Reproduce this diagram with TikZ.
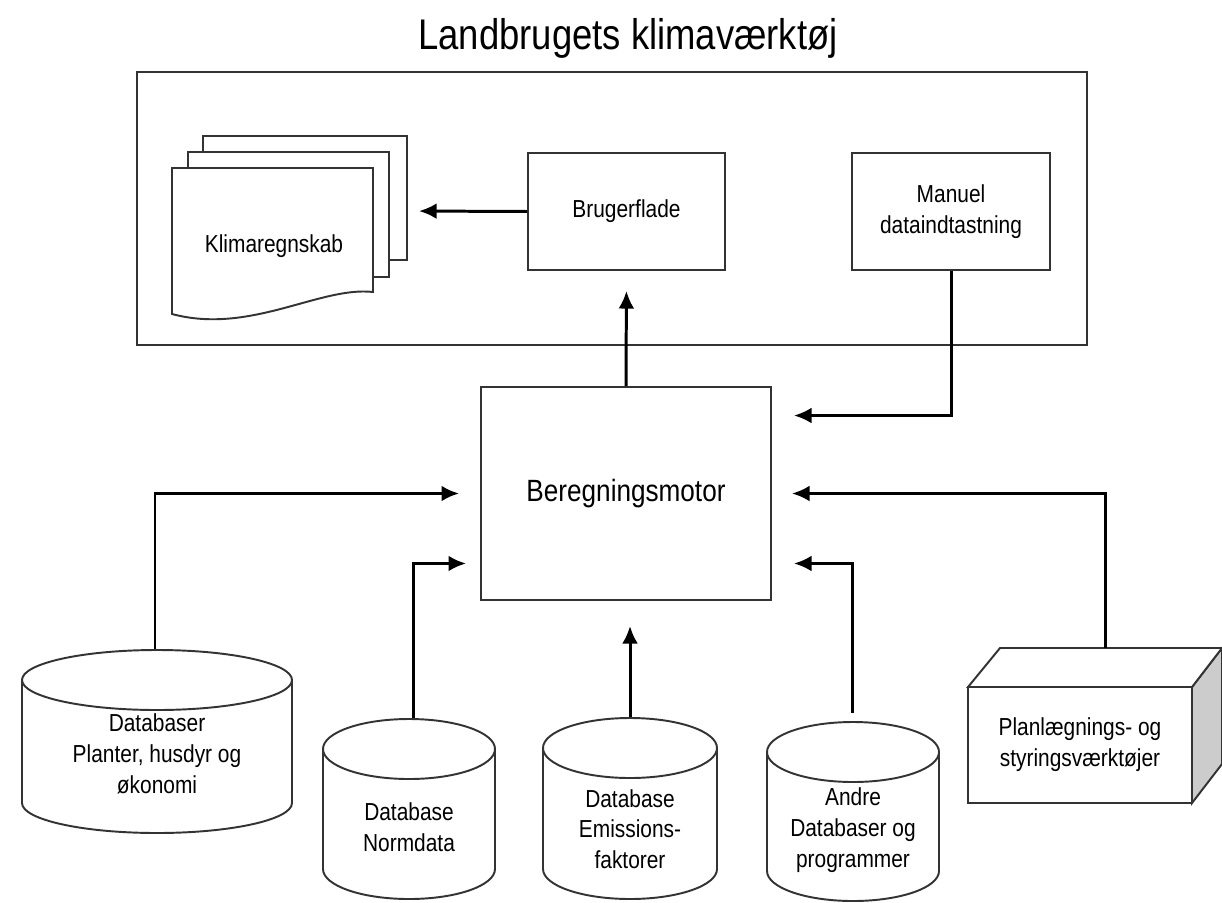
\documentclass[tikz,border=0pt]{standalone}
\usepackage{fontspec}
\setmainfont{Liberation Sans}[FakeStretch=0.85]
\usetikzlibrary{calc}
\usetikzlibrary{arrows.meta}

\tikzset{
  box/.style={draw=black!80, line width=1.1pt, fill=white, align=center,
    font=\fontsize{14}{17.5}\selectfont},
  frame/.style={draw=black!80, line width=1.1pt, minimum width=19cm, minimum height=5.46cm},
  page/.style={draw=black!80, line width=1.1pt, fill=white},
  dbtext/.style={align=center, font=\fontsize{14}{17.5}\selectfont},
  flow/.style={-{Latex[length=10pt, width=9pt]}, line width=1.7pt, black}
}

\begin{document}
\begin{tikzpicture}[x=0.02cm, y=-0.02cm]
\useasboundingbox (0,0) rectangle (1222,902);

% title and outer frame
\node[font=\fontsize{24.4}{28}\selectfont] (title) at (628,38) {Landbrugets klimaværktøj};
\node[frame] (tool) at (612,208.5) {};

% stack of documents
\draw[page] (203,136) rectangle (407,260);
\draw[page] (188,152) rectangle (389,277);
\draw[page] (172,168) -- (373,168) -- (373,292)
  .. controls (320,286) and (250,335) .. (172,314) -- cycle;
\node[dbtext] (klima) at (274,246) {Klimaregnskab};
\coordinate (stack) at (407,211);

% boxes
\node[box, minimum width=3.94cm, minimum height=2.34cm] (brug) at (626.5,211.5) {Brugerflade};
\node[box, minimum width=3.96cm, minimum height=2.34cm] (manuel) at (951,211.5) {Manuel\\dataindtastning};
\node[box, minimum width=5.8cm, minimum height=4.26cm,
  font=\fontsize{17.5}{21}\selectfont] (motor) at (626,493.5) {Beregningsmotor};

% databases
\foreach \cx/\w/\t/\b in {157/135/680/803, 409/86/749/869, 630/87/748/869, 853/86/752/871} {
  \draw[page] (\cx-\w,\t) -- (\cx-\w,\b)
    arc[start angle=180, end angle=0, x radius=\w, y radius=30] -- (\cx+\w,\t);
  \draw[page] (\cx,\t) ellipse[x radius=\w, y radius=30];
}
\node[dbtext] (db1) at (157,754) {Databaser\\Planter, husdyr og\\økonomi};
\node[dbtext] (norm) at (409,827) {Database\\Normdata};
\node[dbtext] (emis) at (630,829) {Database\\Emissions-\\faktorer};
\node[dbtext] (andre) at (853,830) {Andre\\Databaser og\\programmer};
\coordinate (db1top) at (155,649);
\coordinate (normtop) at (413,718);
\coordinate (emistop) at (630,717);
\coordinate (andretop) at (852,713);

% planning tools box
\draw[page, fill=black!20] (1192,687) -- (1222,648) -- (1222,764) -- (1192,803) -- cycle;
\draw[page] (968,687) -- (1000,648) -- (1222,648) -- (1192,687) -- cycle;
\node[box, minimum width=4.48cm, minimum height=2.32cm] (plan) at (1080,745) {Planlægnings- og\\styringsværktøjer};
\coordinate (plantop) at (1105,648);

% connectors
\draw[flow, shorten >=0.24cm] (brug.west) -- (stack);
\draw[flow, shorten >=0.4cm] (motor.north) -- (brug.south);
\draw[flow, shorten >=0.44cm] (manuel.south) |- ([yshift=1.56cm]motor.east);
\draw[flow, shorten >=0.42cm] (db1top) |- (motor.west);
\draw[flow, shorten >=0.28cm] (normtop) |- ([yshift=-1.4cm]motor.west);
\draw[flow, shorten >=0.5cm] (emistop) -- (emistop |- motor.south);
\draw[flow, shorten >=0.44cm] (andretop) |- ([yshift=-1.4cm]motor.east);
\draw[flow, shorten >=0.4cm] (plantop) |- (motor.east);
\end{tikzpicture}
\end{document}
